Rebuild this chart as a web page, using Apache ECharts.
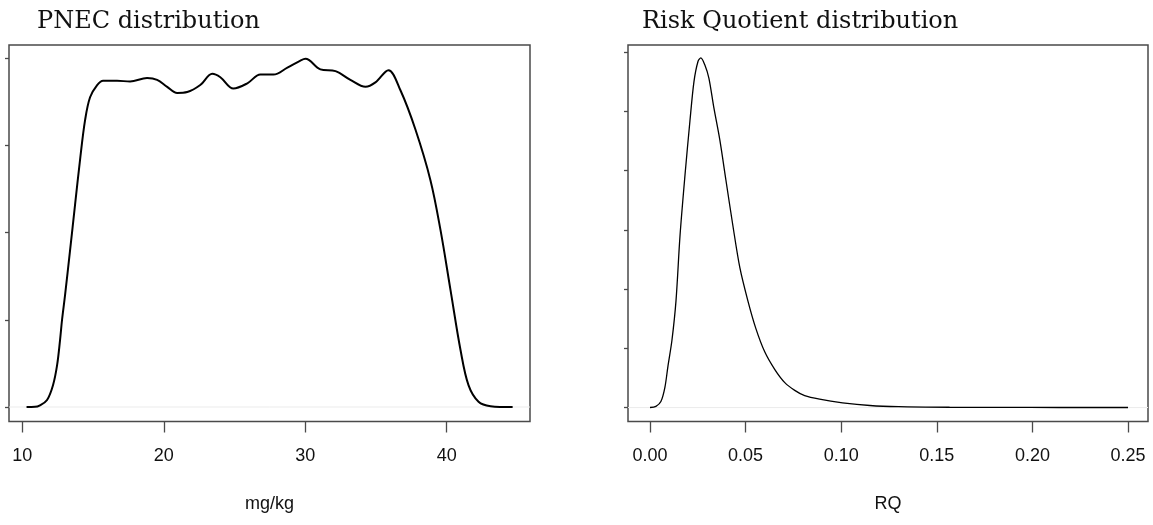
<!DOCTYPE html>
<html>
<head>
<meta charset="utf-8">
<script src="https://cdn.jsdelivr.net/npm/echarts@6/dist/echarts.min.js"></script>
<style>
html,body{margin:0;padding:0;background:#fff;}
#c{width:1153px;height:525px;}
</style>
</head>
<body>
<div id="c"></div>
<script>
// ---- PNEC density (mg/kg) ----
const pnecX = [10.3, 10.9, 11.25, 11.75, 12.17, 12.46, 12.67, 12.81, 13.02, 13.38, 13.73, 14.08, 14.44, 14.79, 15.29, 15.71, 16.7, 17.62, 18.82, 19.53, 20.24, 20.95, 21.66, 22.58, 23.43, 24.0, 24.92, 25.91, 26.83, 27.75, 28.74, 29.66, 30.02, 31.07, 32.14, 33.19, 34.26, 34.96, 35.88, 36.73, 37.79, 38.85, 39.56, 40.27, 40.98, 41.54, 42.25, 43.1, 44.66];
const pnecY = [0, 0.00002, 0.0002, 0.0008, 0.0025, 0.0048, 0.0077, 0.0100, 0.0128, 0.0180, 0.0232, 0.0283, 0.0329, 0.0355, 0.0369, 0.0374, 0.0374, 0.0373, 0.0377, 0.0375, 0.0367, 0.0360, 0.0361, 0.0369, 0.0382, 0.0378, 0.0365, 0.0371, 0.0381, 0.0381, 0.0389, 0.0397, 0.0399, 0.0387, 0.0385, 0.0375, 0.0367, 0.0372, 0.0386, 0.0363, 0.0318, 0.0260, 0.0203, 0.0134, 0.0065, 0.0025, 0.0006, 0.0001, 0];
// ---- RQ density ----
const rqX = [0.000, 0.0031, 0.0057, 0.0078, 0.0094, 0.0115, 0.0136, 0.0157, 0.0183, 0.0209, 0.0230, 0.0251, 0.0266, 0.0287, 0.0308, 0.0334, 0.0365, 0.0397, 0.0433, 0.0470, 0.0512, 0.0553, 0.0600, 0.0653, 0.0705, 0.0757, 0.0809, 0.0887, 0.1007, 0.115, 0.130, 0.157, 0.183, 0.214, 0.25];
const rqY = [0, 0.1, 0.5, 1.7, 3.5, 5.7, 9.0, 14.5, 19.6, 24.2, 27.5, 29.2, 29.5, 28.9, 27.8, 25.3, 22.6, 19.2, 15.4, 11.8, 9.0, 6.7, 4.7, 3.2, 2.1, 1.45, 1.0, 0.7, 0.4, 0.17, 0.07, 0.02, 0.01, 0.0, 0];
// ---- tick labels ----
const pnecTicks = [10, 20, 30, 40];
const pnecYTicks = [0, 0.01, 0.02, 0.03, 0.04];
const rqTicks = [0, 0.05, 0.10, 0.15, 0.20, 0.25];
const rqYTicks = [0, 5, 10, 15, 20, 25, 30];

const pnecRange = [9.06, 45.888];
const rqRange = [-0.0115, 0.26045];

const chart = echarts.init(document.getElementById('c'), null, {renderer: 'canvas'});
const frame = '#4a4a4a';
const tickFont = {fontFamily: 'Liberation Sans, Arial, sans-serif', fontSize: 18, color: '#111'};

function xAx(idx, range, ticks, name, fmt) {
  return {
    type: 'value', gridIndex: idx, min: range[0], max: range[1],
    name: name, nameLocation: 'middle', nameGap: 74,
    nameTextStyle: Object.assign({}, tickFont, {fontSize: 18}),
    splitLine: {show: false},
    axisLine: {show: false, onZero: false},
    axisTick: {show: true, length: 11, customValues: ticks, lineStyle: {color: frame, width: 1.3}},
    axisLabel: Object.assign({show: true, margin: 26, customValues: ticks, formatter: fmt}, tickFont)
  };
}
function yAx(idx, min, max, ticks) {
  return {
    type: 'value', gridIndex: idx, min: min, max: max,
    splitLine: {show: false},
    axisLine: {show: false, onZero: false},
    axisTick: {show: true, length: 4, customValues: ticks, lineStyle: {color: frame, width: 1.3}},
    axisLabel: {show: false}
  };
}
function baseline(idx, range) {
  return {type: 'line', xAxisIndex: idx, yAxisIndex: idx, showSymbol: false, silent: true,
          data: [[range[0], 0], [range[1], 0]], lineStyle: {color: '#ececec', width: 1}, z: 1};
}
const titleStyle = {fontFamily: 'DejaVu Serif', fontWeight: 'normal', fontSize: 24, color: '#111'};

chart.setOption({
  backgroundColor: '#fff',
  animation: false,
  title: [
    {text: 'PNEC distribution', left: 32, top: 5, textStyle: titleStyle},
    {text: 'Risk Quotient distribution', left: 637, top: 5, textStyle: titleStyle}
  ],
  grid: [
    {left: 9, top: 45, width: 521, height: 376.5, show: true, borderColor: frame, borderWidth: 1.5, backgroundColor: 'transparent'},
    {left: 628, top: 45, width: 520, height: 376.5, show: true, borderColor: frame, borderWidth: 1.5, backgroundColor: 'transparent'}
  ],
  xAxis: [
    xAx(0, pnecRange, pnecTicks, 'mg/kg', v => String(v)),
    xAx(1, rqRange, rqTicks, 'RQ', v => v.toFixed(2))
  ],
  yAxis: [
    yAx(0, -0.00166, 0.04149, pnecYTicks),
    yAx(1, -1.18, 30.59, rqYTicks)
  ],
  series: [
    baseline(0, pnecRange),
    baseline(1, rqRange),
    {type: 'line', xAxisIndex: 0, yAxisIndex: 0, showSymbol: false, smooth: 0.35,
     data: pnecX.map((x, i) => [x, pnecY[i]]),
     lineStyle: {color: '#000', width: 2}, z: 3},
    {type: 'line', xAxisIndex: 1, yAxisIndex: 1, showSymbol: false, smooth: 0.3,
     data: rqX.map((x, i) => [x, rqY[i]]),
     lineStyle: {color: '#000', width: 1.3}, z: 3}
  ]
});
</script>
</body>
</html>
